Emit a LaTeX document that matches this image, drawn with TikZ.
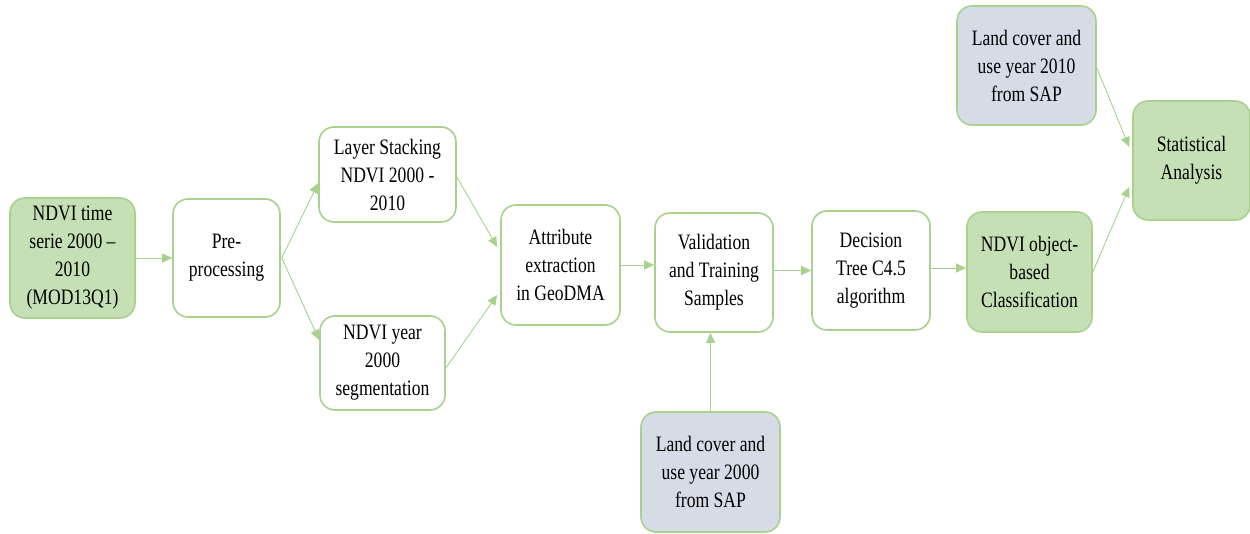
\documentclass[tikz,border=0pt]{standalone}
\usepackage{fontspec}
\setmainfont[FakeStretch=0.8]{Liberation Serif}
\usetikzlibrary{arrows.meta}
\definecolor{bordergreen}{HTML}{A9D18E}
\definecolor{fillgreen}{HTML}{C5E0B4}
\definecolor{fillblue}{HTML}{D6DCE5}
\definecolor{linegreen}{HTML}{A9D18E}
\tikzset{
  box/.style={draw=bordergreen, line width=1.6pt, rounded corners=15pt, align=center,
    inner sep=2pt, font=\fontsize{22}{28}\selectfont, text=black},
  greenbox/.style={box, fill=fillgreen},
  whitebox/.style={box, fill=white},
  bluebox/.style={box, fill=fillblue},
  conn/.style={draw=linegreen, line width=0.9pt, -{Triangle[length=10pt,width=9pt,fill=linegreen]}}
}
\begin{document}
\begin{tikzpicture}[x=1pt,y=-1pt]
\useasboundingbox (0,0) rectangle (1250,534);
\node[greenbox, minimum width=125pt, minimum height=120pt] (ndvi) at (72.5,258) {NDVI time\\serie 2000 --\\2010\\(MOD13Q1)};
\node[whitebox, minimum width=107pt, minimum height=118pt] (pre) at (226.5,258) {Pre-\\processing};
\node[whitebox, minimum width=137pt, minimum height=95pt] (layer) at (387.5,174.5) {Layer Stacking\\NDVI 2000 -\\2010};
\node[whitebox, minimum width=125pt, minimum height=94pt] (seg) at (382.5,363) {NDVI year\\2000\\segmentation};
\node[whitebox, minimum width=119pt, minimum height=120pt] (attr) at (560.5,265) {Attribute\\extraction\\in GeoDMA};
\node[whitebox, minimum width=118pt, minimum height=119pt] (valid) at (714,272.5) {Validation\\and Training\\Samples};
\node[whitebox, minimum width=118pt, minimum height=119pt] (dec) at (871,270.5) {Decision\\Tree C4.5\\algorithm};
\node[greenbox, minimum width=125pt, minimum height=120pt] (obj) at (1029.5,272) {NDVI object-\\based\\Classification};
\node[greenbox, minimum width=117pt, minimum height=119pt] (stat) at (1191.5,160.5) {Statistical\\Analysis};
\node[bluebox, minimum width=139pt, minimum height=119pt] (lc10) at (1026.5,65.5) {Land cover and\\use year 2010\\from SAP};
\node[bluebox, minimum width=139pt, minimum height=120pt] (lc00) at (710.5,472) {Land cover and\\use year 2000\\from SAP};

\draw[conn] (ndvi.east) -- (pre.west);
\draw[conn] ([xshift=1pt]pre.east) -- ([yshift=-8.5pt]layer.west);
\draw[conn] ([xshift=1pt]pre.east) -- ([yshift=23pt]seg.west);
\draw[conn] ([yshift=-2.5pt]layer.east) -- ([xshift=-3pt,yshift=18pt]attr.west);
\draw[conn] ([yshift=-5pt]seg.east) -- ([xshift=-3pt,yshift=-30pt]attr.west);
\draw[conn] (attr.east) -- ([yshift=7.5pt]valid.west);
\draw[conn] ([yshift=2pt]valid.east) -- (dec.west);
\draw[conn] ([yshift=2.5pt]dec.east) -- ([yshift=4pt]obj.west);
\draw[conn] (lc00.north) -- ([xshift=-3.5pt]valid.south);
\draw[conn] ([yshift=-2.5pt]lc10.east) -- ([xshift=-3pt,yshift=13.5pt]stat.west);
\draw[conn] (obj.east) -- ([xshift=-3pt,yshift=-26.5pt]stat.west);
\end{tikzpicture}
\end{document}
